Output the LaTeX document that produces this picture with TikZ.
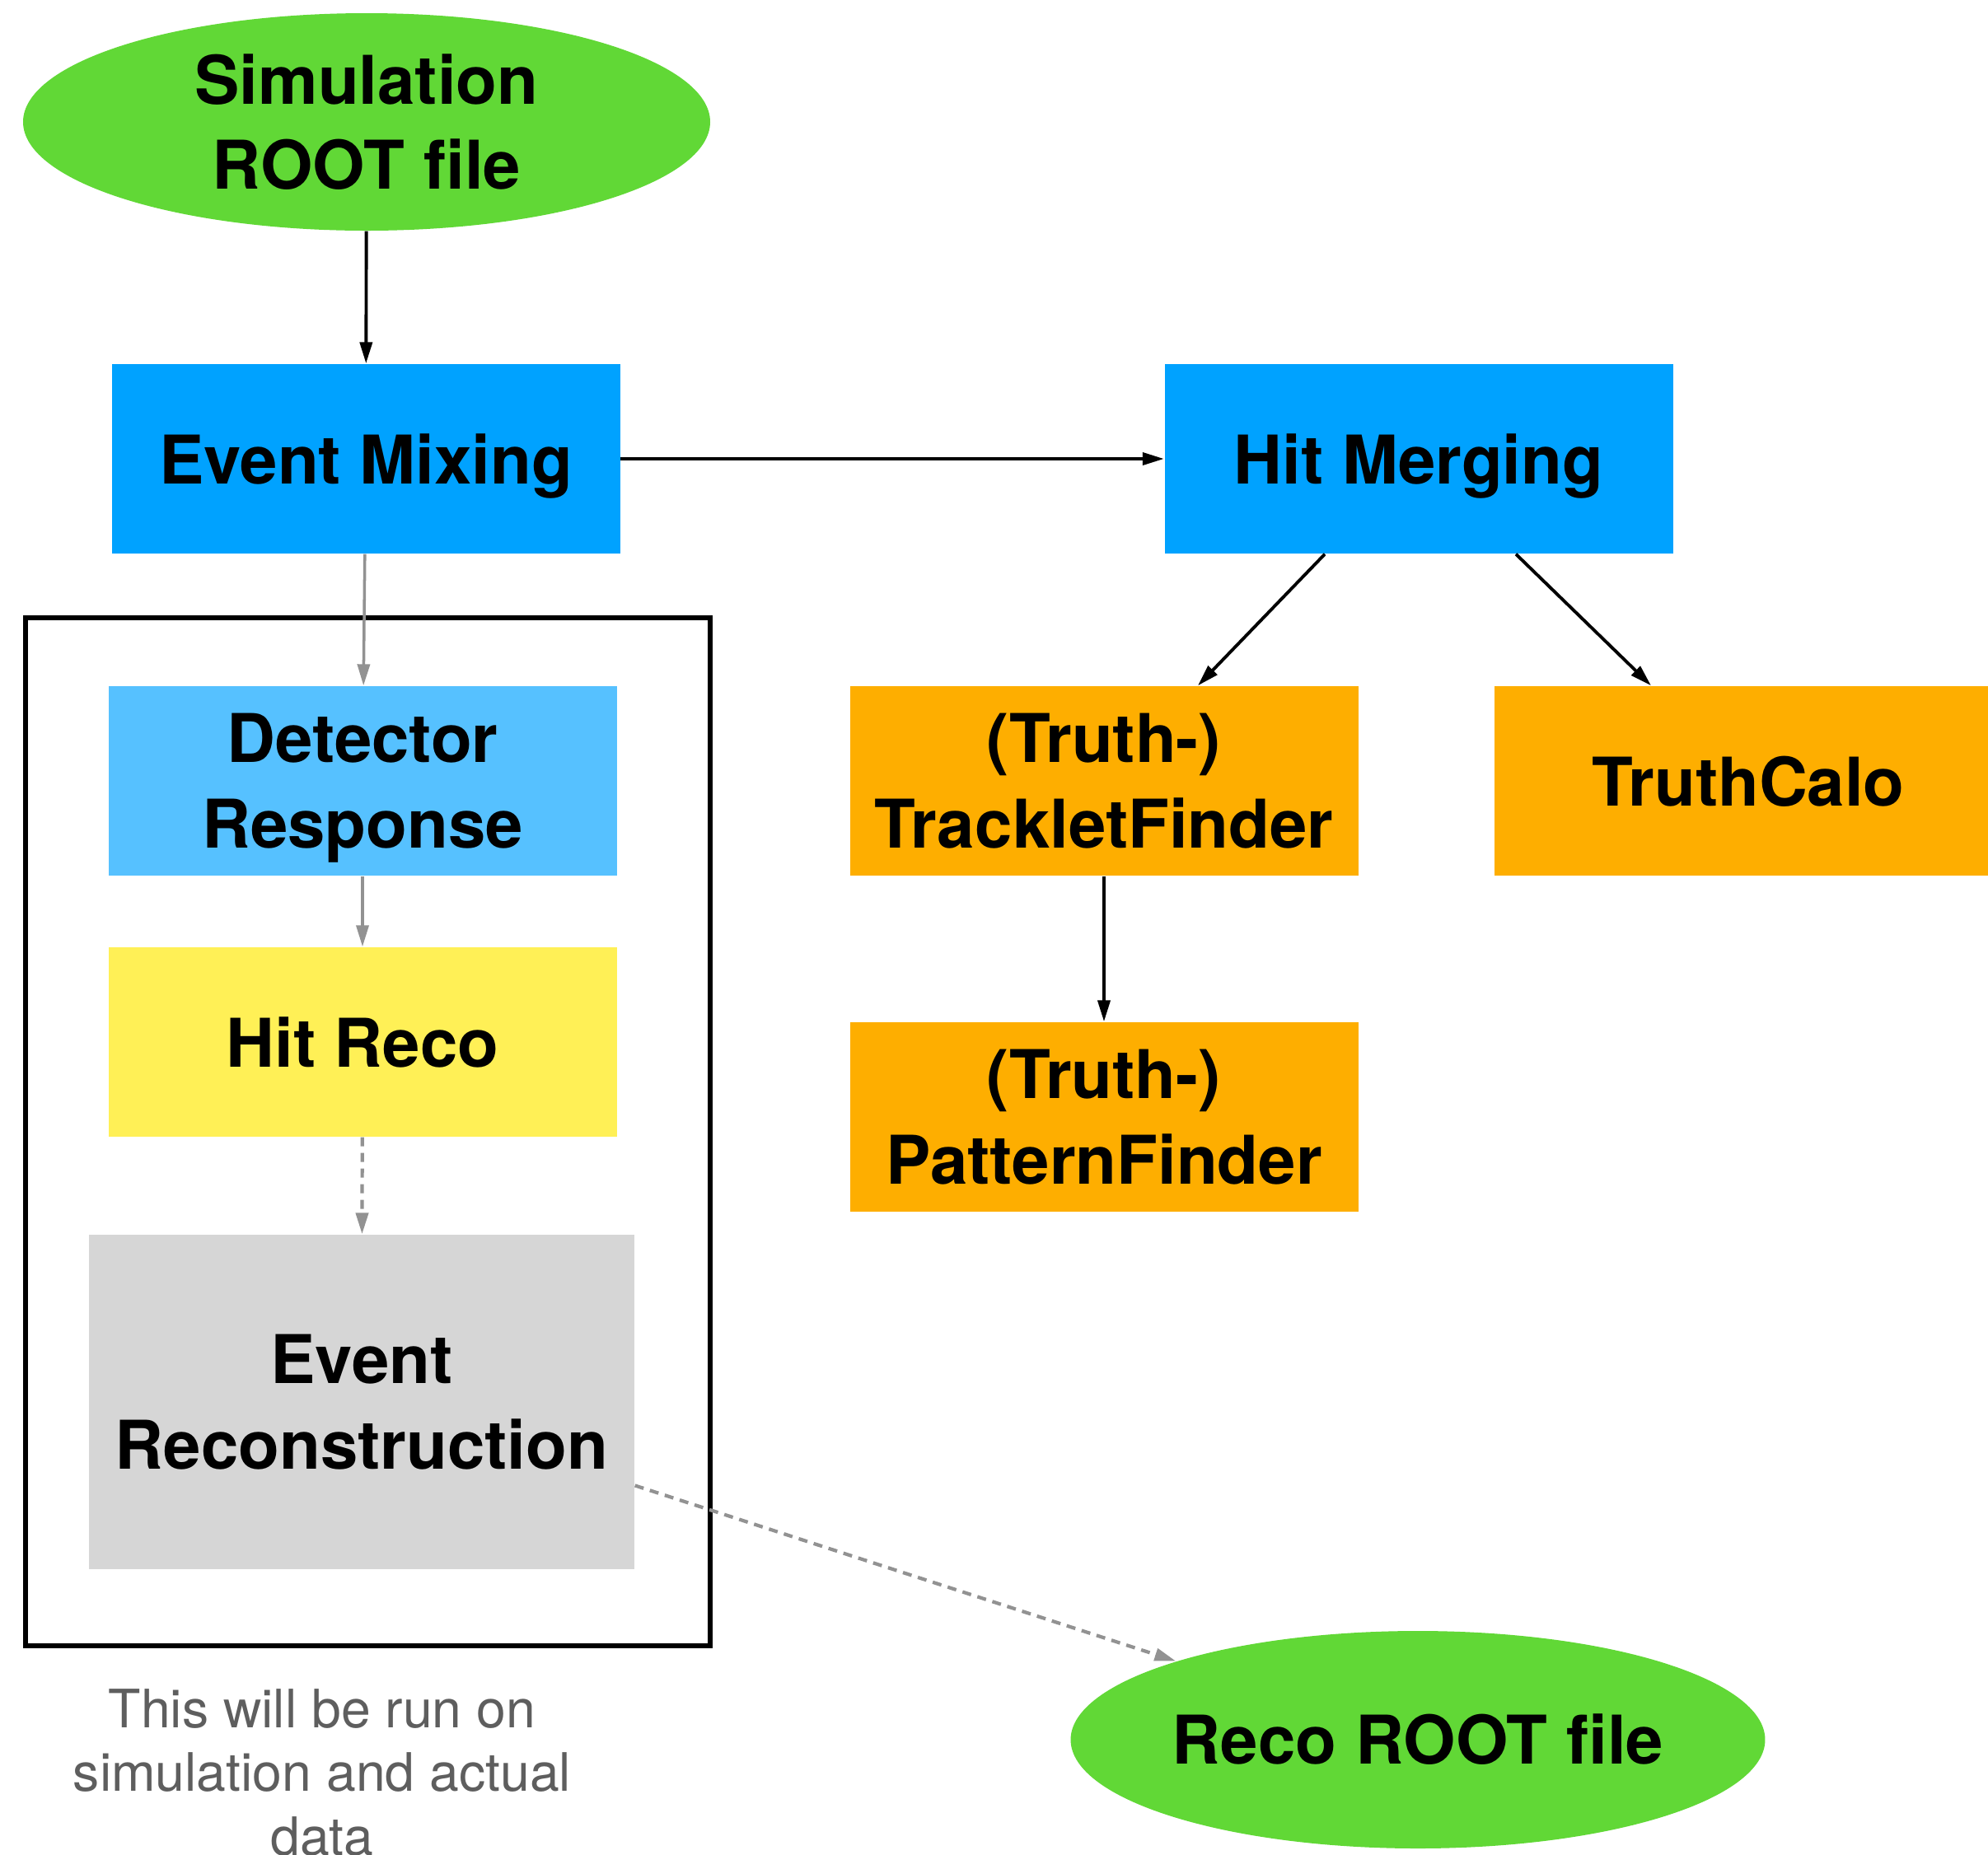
\documentclass[tikz,border=0pt]{standalone}
\usepackage{fontspec}
\setmainfont{TeX Gyre Heros}
\usepackage{xcolor}
\usepackage{tikz}
\usetikzlibrary{shapes.geometric, arrows.meta, positioning, calc}

\definecolor{stageblue}{HTML}{00A2FF}
\definecolor{detblue}{HTML}{56C1FF}
\definecolor{hityellow}{HTML}{FFF056}
\definecolor{recogray}{HTML}{D6D6D6}
\definecolor{truthorange}{HTML}{FEAE00}
\definecolor{filegreen}{HTML}{61D836}
\definecolor{flowgray}{HTML}{929292}
\definecolor{notegray}{HTML}{5E5E5E}

\tikzset{
  block/.style={rectangle, fill=stageblue, minimum width=6.17cm,
                minimum height=2.30cm, inner sep=0pt, align=center, text depth=0pt,
                font=\bfseries\fontsize{23.2}{29.5}\selectfont},
  truthblock/.style={block, fill=truthorange},
  fileblock/.style={ellipse, fill=filegreen, minimum width=8.34cm,
                    minimum height=2.64cm, inner sep=0pt, align=center,
                    font=\bfseries\fontsize{23.2}{29.5}\selectfont},
  arrow/.style={-{Triangle[length=0.26cm, width=0.15cm]}, line width=1.1pt},
  grayarrow/.style={-{Triangle[length=0.26cm, width=0.15cm]}, line width=1pt, flowgray},
  dasharrow/.style={grayarrow, line width=1.2pt, dash pattern=on 0.11cm off 0.08cm}
}

\begin{document}
\begin{tikzpicture}[
    frame/.style={draw, line width=1.6pt},
    note/.style={align=center, text=notegray, font=\fontsize{18.3}{22}\selectfont}
  ]
  \useasboundingbox (0,0) rectangle (24.13,-22.51);

  % Input and output files
  \node[fileblock] (sim)  at (4.45,-1.48)   {Simulation\\ROOT file};
  \node[fileblock] (reco) at (17.21,-21.12) {Reco ROOT file};

  % Top row
  \node[block] (mix)   at (4.44,-5.57)  {Event Mixing};
  \node[block] (merge) at (17.22,-5.57) {Hit Merging};

  % Chain run on simulation and data
  \draw[frame] (0.31,-7.50) rectangle (8.62,-19.98);
  \node[block, fill=detblue]   (det)    at (4.40,-9.48)  {Detector\\Response};
  \node[block, fill=hityellow] (hit)    at (4.40,-12.65) {Hit Reco};
  \node[block, fill=recogray, minimum width=6.62cm, minimum height=4.06cm]
        (evreco) at (4.39,-17.02) {Event\\Reconstruction};
  \node[note] (remark) at (3.91,-21.52) {This will be run on\\simulation and actual\\data};

  % Truth branch
  \node[truthblock] (tracklet) at (13.40,-9.48)  {(Truth-)\\TrackletFinder};
  \node[truthblock] (calo)     at (21.22,-9.48)  {TruthCalo};
  \node[truthblock] (pattern)  at (13.40,-13.56) {(Truth-)\\PatternFinder};

  % Connections
  \draw[arrow] (sim) -- (mix);
  \draw[arrow] (mix) -- (merge);
  \draw[arrow] ($(merge.south)+(-1.14,0)$) -- ($(tracklet.north)+(1.14,0)$);
  \draw[arrow] ($(merge.south)+(1.18,0)$) -- ($(calo.north)+(-1.18,0)$);
  \draw[arrow] (tracklet) -- (pattern);

  \draw[grayarrow] (mix) -- (det);
  \draw[grayarrow] (det) -- (hit);
  \draw[dasharrow] (hit) -- (evreco);
  \draw[dasharrow] (evreco.-17.8) -- (reco);
\end{tikzpicture}
\end{document}
